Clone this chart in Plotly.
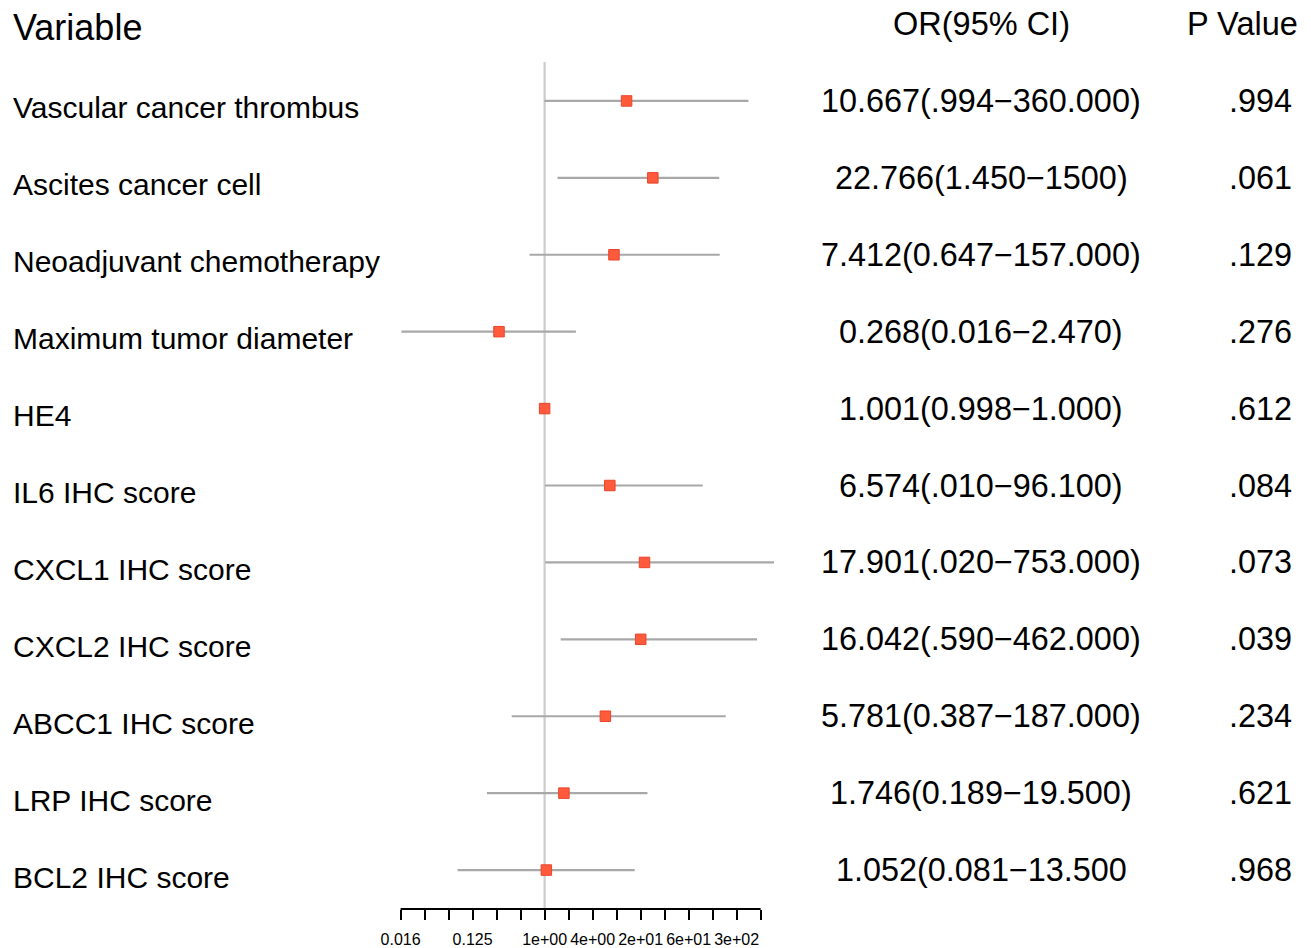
import math
import plotly.graph_objects as go

variables = ["Vascular cancer thrombus", "Ascites cancer cell", "Neoadjuvant chemotherapy",
             "Maximum tumor diameter", "HE4", "IL6 IHC score", "CXCL1 IHC score",
             "CXCL2 IHC score", "ABCC1 IHC score", "LRP IHC score", "BCL2 IHC score"]
or_vals = [10.667, 22.766, 7.412, 0.268, 1.001, 6.574, 17.901, 16.042, 5.781, 1.746, 1.052]
ci_low = [0.994, 1.450, 0.647, 0.016, 0.998, 1.010, 1.020, 1.590, 0.387, 0.189, 0.081]
ci_high = [360.0, 155.0, 157.0, 2.470, 1.000, 96.1, 753.0, 462.0, 187.0, 19.5, 13.5]
or_text = ["10.667(.994\u2212360.000)", "22.766(1.450\u22121500)", "7.412(0.647\u2212157.000)",
           "0.268(0.016\u22122.470)", "1.001(0.998\u22121.000)", "6.574(.010\u221296.100)",
           "17.901(.020\u2212753.000)", "16.042(.590\u2212462.000)", "5.781(0.387\u2212187.000)",
           "1.746(0.189\u221219.500)", "1.052(0.081\u221213.500"]
p_text = [".994", ".061", ".129", ".276", ".612", ".084", ".073", ".039", ".234", ".621", ".968"]
tick_exps = list(range(-6, 10))
tick_labels = {-6: "0.016", -3: "0.125", 0: "1e+00", 2: "4e+00", 4: "2e+01", 6: "6e+01", 8: "3e+02"}

W, H = 1311, 948
FONT = "Liberation Sans, Arial, sans-serif"
rows = list(range(1, len(variables) + 1))

# pixel geometry
px_per = 24.15
x0_px = 395.0
x_left_px = x0_px - 0.5 * px_per
x_right_px = x0_px + 16 * px_per
top_px, bot_px = 62, 909
row_gap = 77
off = (101 - top_px) / row_gap

fig = go.Figure()

xs, ys = [], []
for r, lo, hi in zip(rows, ci_low, ci_high):
    xs += [lo, hi, None]
    ys += [r, r, None]
fig.add_trace(go.Scatter(x=xs, y=ys, mode="lines", line=dict(color="#A8A8A8", width=2.2),
                         hoverinfo="skip", showlegend=False))
fig.add_trace(go.Scatter(x=or_vals, y=rows, mode="markers",
                         marker=dict(symbol="square", size=10.5, color="#FF5A3C",
                                     line=dict(color="#E8452C", width=1)),
                         showlegend=False, cliponaxis=False))

fig.add_shape(type="line", xref="x", yref="y domain", x0=1, x1=1, y0=0, y1=1,
              line=dict(color="#CDCDCD", width=2.2), layer="below")
fig.add_shape(type="line", xref="x", yref="y domain", x0=2.0 ** -6, x1=2.0 ** 9, y0=0, y1=0,
              line=dict(color="black", width=2))

LX = 3
ann = []
ann.append(dict(text="Variable", x=LX / W, y=1 - 28 / H, xref="paper", yref="paper",
                xanchor="left", yanchor="middle", showarrow=False,
                font=dict(size=36, family=FONT, color="black")))
ann.append(dict(text="OR(95% CI)", x=979 / W, y=1 - 24 / H, xref="paper", yref="paper",
                xanchor="center", yanchor="middle", showarrow=False,
                font=dict(size=32.5, family=FONT, color="black")))
ann.append(dict(text="P Value", x=1300 / W, y=1 - 24 / H, xref="paper", yref="paper",
                xanchor="right", yanchor="middle", showarrow=False,
                font=dict(size=32.5, family=FONT, color="black")))
for r, v, o, p in zip(rows, variables, or_text, p_text):
    ann.append(dict(text=v, x=LX / W, y=r, xref="paper", yref="y", xanchor="left",
                    yanchor="middle", yshift=-7, showarrow=False,
                    font=dict(size=30, family=FONT, color="black")))
    ann.append(dict(text=o, x=979 / W, y=r, xref="paper", yref="y", xanchor="center",
                    yanchor="middle", showarrow=False,
                    font=dict(size=32.4, family=FONT, color="black")))
    ann.append(dict(text=p, x=1294 / W, y=r, xref="paper", yref="y", xanchor="right",
                    yanchor="middle", showarrow=False,
                    font=dict(size=32.4, family=FONT, color="black")))

l2 = math.log10(2)
fig.update_layout(
    width=W, height=H, margin=dict(l=0, r=0, t=0, b=0),
    paper_bgcolor="white", plot_bgcolor="white",
    annotations=ann,
    xaxis=dict(type="log", domain=[x_left_px / W, x_right_px / W],
               range=[-6.5 * l2, 10 * l2], showgrid=False, zeroline=False, showline=False,
               tickvals=[2.0 ** k for k in tick_exps],
               ticktext=[tick_labels.get(k, "") for k in tick_exps],
               ticks="outside", ticklen=10, tickwidth=2, tickcolor="black",
               ticklabelstandoff=6,
               tickfont=dict(size=16, family=FONT, color="black")),
    yaxis=dict(domain=[1 - bot_px / H, 1 - top_px / H],
               range=[11 + off, 1 - off], showgrid=False, zeroline=False,
               showticklabels=False, showline=False),
)
fig.write_html("out.html")
